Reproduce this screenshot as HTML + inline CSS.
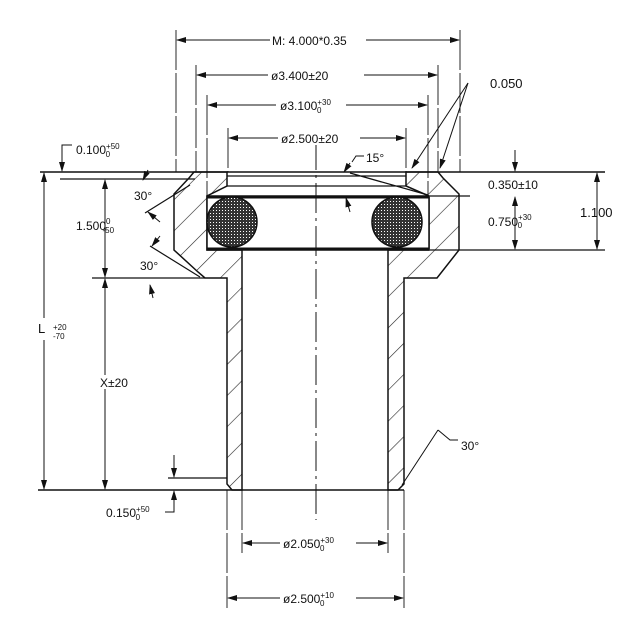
<!DOCTYPE html>
<html><head><meta charset="utf-8"><style>
html,body{margin:0;padding:0;background:#fff;width:640px;height:637px;overflow:hidden}
svg{display:block}
text{font-family:"Liberation Sans",sans-serif;fill:#111}
</style></head><body>
<svg width="640" height="637" viewBox="0 0 640 637" xmlns="http://www.w3.org/2000/svg">
<defs>
<pattern id="h" width="22" height="22" patternUnits="userSpaceOnUse" patternTransform="rotate(45)">
<line x1="0" y1="0" x2="0" y2="22" stroke="#222" stroke-width="1.2"/>
</pattern>
<pattern id="dots" width="3" height="3" patternUnits="userSpaceOnUse">
<rect width="3" height="3" fill="#333"/><rect width="1" height="1" fill="#fff"/>
</pattern>
<marker id="a" markerWidth="10" markerHeight="6" refX="9" refY="3" orient="auto-start-reverse" markerUnits="userSpaceOnUse">
<path d="M0,0 L10,3 L0,6z" fill="#111"/></marker>
</defs>
<g stroke="#111" fill="none" stroke-width="1.2">
<path d="M194,172 L189,178 L174,194 L174,250 L198,272 L205,278 L227,278 L227,484 L232,490 L242,490 L242,250 L207,250 L207,196 L227,186 L227,172 Z" fill="url(#h)" stroke-width="1.5"/>
<path d="M438,172 L443,178 L459,194 L459,250 L437,278 L404,278 L404,484 L398,490 L388,490 L388,250 L429,250 L429,196 L406,186 L406,172 Z" fill="url(#h)" stroke-width="1.5"/>
<rect x="207" y="196" width="222" height="54" fill="#fff" stroke-width="1.5"/>
<line x1="207" y1="197" x2="429" y2="197" stroke-width="3"/>
<line x1="207" y1="249" x2="429" y2="249" stroke-width="3"/>
<path d="M227,186 L406,186 M350,173 L428,195 M227,176 L406,176" stroke-width="1.3"/>
<circle cx="232" cy="222" r="25" fill="url(#dots)" stroke-width="1.5"/>
<circle cx="397" cy="222" r="25" fill="url(#dots)" stroke-width="1.5"/>
<line x1="40" y1="172" x2="605" y2="172" stroke-width="1.5"/>
<line x1="60" y1="179" x2="195" y2="179"/>
<line x1="430" y1="196" x2="470" y2="196"/>
<line x1="430" y1="250" x2="605" y2="250"/>
<line x1="92" y1="278" x2="205" y2="278"/>
<line x1="38" y1="490" x2="404" y2="490" stroke-width="1.6"/>
<line x1="168" y1="478" x2="227" y2="478"/>
<line x1="150" y1="246" x2="200" y2="277"/>
<line x1="145" y1="213" x2="190" y2="185"/>
<line x1="316" y1="140" x2="316" y2="520" stroke-dasharray="30,5,3,5" stroke-width="1"/>
<path d="M176,30 V172 M460,30 V172 M196,65 V172 M438,65 V172 M207,95 V196 M428,95 V196 M228,128 V172 M406,128 V172" stroke-width="0.9" stroke-dasharray="40,3"/>
<path d="M227,490 V608 M404,490 V608 M242,490 V553 M388,490 V553" stroke-width="0.9" stroke-dasharray="40,3"/>
<g stroke-width="1" marker-start="url(#a)" marker-end="url(#a)">
<line x1="177" y1="40" x2="459" y2="40"/>
<line x1="197" y1="75" x2="437" y2="75"/>
<line x1="208" y1="105" x2="427" y2="105"/>
<line x1="229" y1="138" x2="405" y2="138"/>
<line x1="243" y1="543" x2="387" y2="543"/>
<line x1="228" y1="598" x2="403" y2="598"/>
<line x1="44" y1="173" x2="44" y2="489"/>
<line x1="105" y1="180" x2="105" y2="277"/>
<line x1="105" y1="279" x2="105" y2="489"/>
<line x1="597" y1="173" x2="597" y2="249"/>
<line x1="515" y1="197" x2="515" y2="249"/>
</g>
<g stroke-width="1" marker-end="url(#a)">
<line x1="515" y1="150" x2="515" y2="171"/>
<line x1="62" y1="145" x2="62" y2="171"/>
<line x1="174" y1="455" x2="174" y2="477"/>
<line x1="174" y1="510" x2="174" y2="491"/>
<line x1="468" y1="83" x2="412" y2="168"/>
<line x1="468" y1="83" x2="440" y2="168"/>
<line x1="350" y1="163" x2="344" y2="172"/>
<line x1="350" y1="212" x2="346" y2="198"/>
<line x1="148" y1="170" x2="143" y2="180"/>
<line x1="160" y1="222" x2="148" y2="212"/>
<line x1="160" y1="236" x2="152" y2="246"/>
<line x1="153" y1="298" x2="150" y2="285"/>
</g>
<path d="M62,150 V145 H72 M174,510 V512 H165 M352,162 L356,156 H364 M438,430 L450,440 H458 M438,430 L402,485" stroke-width="1"/>
</g>
<g font-size="12">
<rect x="270" y="33" width="96" height="14" fill="#fff"/>
<text x="272" y="45">M: 4.000*0.35</text>
<rect x="268" y="68" width="96" height="14" fill="#fff"/>
<text x="271" y="80">ø3.400±20</text>
<rect x="276" y="96" width="70" height="16" fill="#fff"/>
<text x="280" y="110">ø3.100<tspan font-size="8" dy="-5">+30</tspan><tspan font-size="8" dx="-14" dy="8">0</tspan></text>
<rect x="278" y="131" width="82" height="14" fill="#fff"/>
<text x="281" y="143">ø2.500±20</text>
<text x="366" y="162">15°</text>
<text x="490" y="88" font-size="13">0.050</text>
<text x="488" y="189">0.350±10</text>
<text x="488" y="226">0.750<tspan font-size="8" dy="-6">+30</tspan><tspan font-size="8" dx="-14" dy="8">0</tspan></text>
<text x="580" y="217" font-size="13">1.100</text>
<text x="76" y="154">0.100<tspan font-size="8" dy="-5">+50</tspan><tspan font-size="8" dx="-14" dy="8">0</tspan></text>
<text x="134" y="200">30°</text>
<text x="76" y="230">1.500<tspan font-size="8" dy="-6">0</tspan><tspan font-size="8" dx="-8" dy="9">-50</tspan></text>
<text x="140" y="270">30°</text>
<rect x="36" y="318" width="60" height="22" fill="#fff"/>
<text x="38" y="333" font-size="13">L</text>
<text x="53" y="330" font-size="8">+20</text>
<text x="53" y="339" font-size="8">-70</text>
<rect x="100" y="375" width="30" height="14" fill="#fff"/>
<text x="100" y="387">X±20</text>
<text x="106" y="517">0.150<tspan font-size="8" dy="-5">+50</tspan><tspan font-size="8" dx="-14" dy="8">0</tspan></text>
<text x="461" y="450">30°</text>
<rect x="280" y="534" width="76" height="18" fill="#fff"/>
<text x="283" y="548">ø2.050<tspan font-size="8" dy="-5">+30</tspan><tspan font-size="8" dx="-14" dy="8">0</tspan></text>
<rect x="280" y="589" width="76" height="18" fill="#fff"/>
<text x="283" y="603">ø2.500<tspan font-size="8" dy="-5">+10</tspan><tspan font-size="8" dx="-14" dy="8">0</tspan></text>
</g>
</svg>
</body></html>
